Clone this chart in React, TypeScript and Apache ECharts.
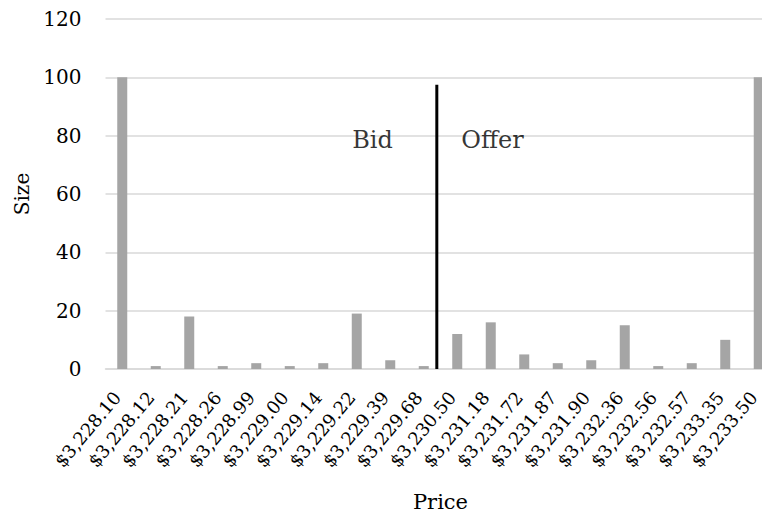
import React, { useEffect, useRef } from "react";
import * as echarts from "echarts";

const categories = [
  "$3,228.10", "$3,228.12", "$3,228.21", "$3,228.26", "$3,228.99",
  "$3,229.00", "$3,229.14", "$3,229.22", "$3,229.39", "$3,229.68",
  "$3,230.50", "$3,231.18", "$3,231.72", "$3,231.87", "$3,231.90",
  "$3,232.36", "$3,232.56", "$3,232.57", "$3,233.35", "$3,233.50",
];
const sizes = [100, 1, 18, 1, 2, 1, 2, 19, 3, 1, 12, 16, 5, 2, 3, 15, 1, 2, 10, 100];
const yTicks = { min: 0, max: 120, interval: 20 };
// divider between bids and offers (in category index units) and its height
const dividerX = 9.39;
const dividerTop = 97.5;
const annotationTexts = ["Bid", "Offer"];
const annotationX = [7.47, 11.05];
const annotationY = [78.5, 78.5];

const FONT = "DejaVu Serif";

export default function App() {
  const ref = useRef<HTMLDivElement>(null);
  useEffect(() => {
    document.body.style.margin = "0";
    document.body.style.overflow = "hidden";
    const chart = echarts.init(ref.current!, null, { renderer: "svg" });
    chart.setOption({
      animation: false,
      textStyle: { fontFamily: FONT },
      grid: {
        left: 105.5,
        right: -13.5,
        top: 19,
        bottom: 147,
        containLabel: false,
        outerBoundsMode: "none",
      },
      xAxis: [
        {
          type: "category",
          data: categories,
          name: "Price",
          nameLocation: "middle",
          nameGap: 122,
          nameTextStyle: { fontFamily: FONT, fontSize: 21, color: "#000" },
          axisLine: { lineStyle: { color: "#d9d9d9", width: 1.5 } },
          axisTick: { show: false },
          axisLabel: {
            rotate: 50,
            interval: 0,
            margin: 19,
            padding: [0, 8, 0, 0],
            fontFamily: FONT,
            fontSize: 18,
            color: "#000",
          },
        },
        {
          type: "value",
          min: -0.5,
          max: 19.5,
          show: false,
        },
      ],
      yAxis: {
        type: "value",
        min: yTicks.min,
        max: yTicks.max,
        interval: yTicks.interval,
        name: "Size",
        nameLocation: "middle",
        nameGap: 73,
        nameTextStyle: { fontFamily: FONT, fontSize: 20, color: "#000" },
        axisLine: { show: false },
        axisTick: { show: false },
        axisLabel: { margin: 24, fontFamily: FONT, fontSize: 20, color: "#000" },
        splitLine: { lineStyle: { color: "#d9d9d9", width: 1.5 } },
      },
      series: [
        {
          type: "bar",
          data: sizes,
          barWidth: 10,
          itemStyle: { color: "#a5a5a5" },
          xAxisIndex: 0,
        },
        {
          type: "line",
          xAxisIndex: 1,
          data: [
            [dividerX, 0],
            [dividerX, dividerTop],
          ],
          symbol: "none",
          lineStyle: { color: "#000", width: 3 },
        },
        {
          type: "scatter",
          xAxisIndex: 1,
          symbolSize: 0,
          data: annotationTexts.map((t, i) => ({ value: [annotationX[i], annotationY[i]], name: t })),
          label: {
            show: true,
            position: "inside",
            formatter: (p: any) => p.name,
            fontFamily: FONT,
            fontSize: 24,
            color: "#000",
          },
        },
      ],
    });
    return () => chart.dispose();
  }, []);
  return <div ref={ref} style={{ width: 762, height: 516, overflow: "hidden" }} />;
}
